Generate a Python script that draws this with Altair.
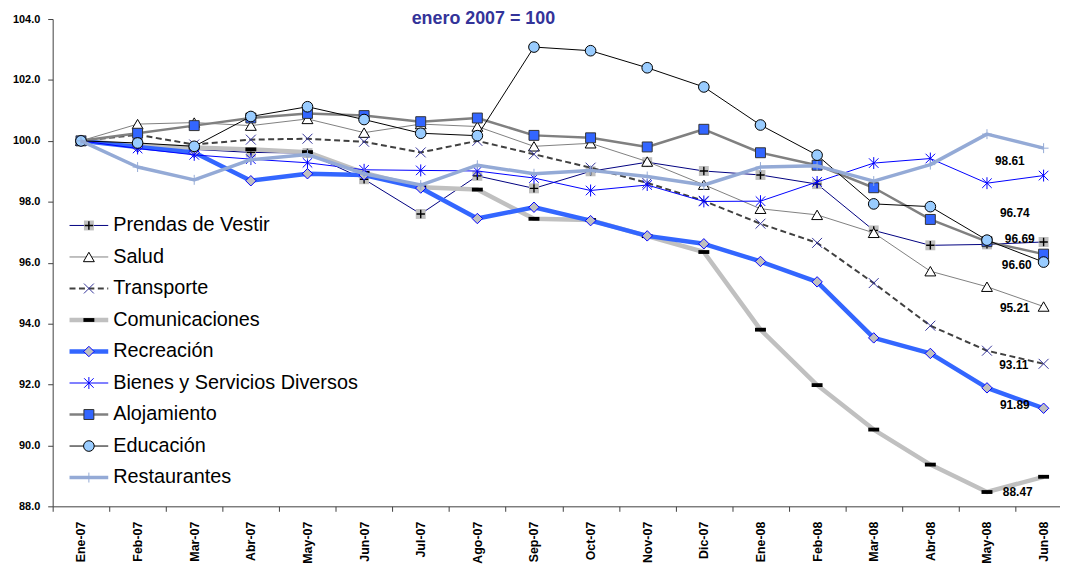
import altair as alt
import pandas as pd

months = ["Ene-07", "Feb-07", "Mar-07", "Abr-07", "May-07", "Jun-07", "Jul-07", "Ago-07",
          "Sep-07", "Oct-07", "Nov-07", "Dic-07", "Ene-08", "Feb-08", "Mar-08", "Abr-08",
          "May-08", "Jun-08"]

prendas = [100.0, 99.88, 99.72, 99.62, 99.60, 98.74, 97.60, 98.85, 98.44, 99.00, 99.30, 99.01,
           98.88, 98.58, 97.06, 96.57, 96.60, 96.68]
salud = [100.0, 100.55, 100.60, 100.50, 100.72, 100.27, 100.55, 100.47, 99.82, 99.92, 99.32, 98.56,
         97.77, 97.57, 96.98, 95.72, 95.21, 94.56]
transporte = [100.0, 100.20, 99.88, 100.04, 100.07, 99.97, 99.62, 100.00, 99.56, 99.12, 98.62, 98.03,
              97.28, 96.65, 95.33, 93.93, 93.11, 92.68]
comunicaciones = [100.0, 99.85, 99.78, 99.72, 99.63, 98.95, 98.48, 98.40, 97.44, 97.40, 96.87, 96.35,
                  93.80, 91.98, 90.52, 89.37, 88.47, 88.97]
recreacion = [100.0, 99.80, 99.62, 98.69, 98.92, 98.88, 98.45, 97.45, 97.82, 97.38, 96.88, 96.62,
              96.04, 95.37, 93.53, 93.02, 91.89, 91.22]
bienes = [100.0, 99.75, 99.54, 99.40, 99.28, 99.05, 99.03, 99.01, 98.78, 98.37, 98.55, 98.01,
          98.02, 98.65, 99.27, 99.42, 98.61, 98.86]
alojamiento = [100.0, 100.25, 100.50, 100.75, 100.90, 100.83, 100.63, 100.75, 100.18, 100.10, 99.80, 100.38,
               99.61, 99.20, 98.46, 97.42, 96.69, 96.28]
educacion = [100.0, 99.93, 99.82, 100.80, 101.12, 100.70, 100.25, 100.17, 103.08, 102.96, 102.40, 101.77,
             100.52, 99.53, 97.93, 97.84, 96.74, 96.02]
restaurantes = [100.0, 99.14, 98.72, 99.38, 99.55, 98.92, 98.55, 99.20, 98.92, 99.03, 98.83, 98.55,
                99.14, 99.18, 98.68, 99.22, 100.22, 99.76]

y_ticks = [88, 90, 92, 94, 96, 98, 100, 102, 104]
title_text = "enero 2007 = 100"
label_month = "May-08"

FONT = "Liberation Sans"
X_PATH = "M-1,-1L1,1M-1,1L1,-1"
STAR_PATH = "M-0.8,-0.8L0.8,0.8M-0.8,0.8L0.8,-0.8M0,-1L0,1"
PLUS_PATH = "M-1,0L1,0M0,-1L0,1"
DASH_PATH = "M-1,-0.35L1,-0.35L1,0.35L-1,0.35Z"

styles = [
    dict(name="Prendas de Vestir", data=prendas,
         line=dict(color="#000080", strokeWidth=1),
         markers=[dict(shape="square", size=100, filled=True, color="#c0c0c0", opacity=1),
                  dict(shape=PLUS_PATH, size=72, filled=False, color="black", strokeWidth=1.4, opacity=1)],
         label=(30, 21)),
    dict(name="Salud", data=salud,
         line=dict(color="#808080", strokeWidth=1),
         markers=[dict(shape="triangle-up", size=120, filled=True, fill="white", stroke="black",
                       strokeWidth=1, opacity=1)],
         label=(28, 21)),
    dict(name="Transporte", data=transporte,
         line=dict(color="#404040", strokeWidth=2, strokeDash=[6, 3.5]),
         markers=[dict(shape=X_PATH, size=100, filled=False, color="#333399", strokeWidth=1, opacity=1)],
         label=(27, 14)),
    dict(name="Comunicaciones", data=comunicaciones,
         line=dict(color="#c0c0c0", strokeWidth=4.5, strokeJoin="round"),
         markers=[dict(shape=DASH_PATH, size=121, filled=True, color="black", opacity=1)],
         label=(31, 0)),
    dict(name="Recreación", data=recreacion,
         line=dict(color="#3366ff", strokeWidth=4.5, strokeJoin="round"),
         markers=[dict(shape="diamond", size=110, filled=True, fill="#c0c0c0", stroke="#0000ff",
                       strokeWidth=1, opacity=1)],
         label=(28, 17)),
    dict(name="Bienes y Servicios Diversos", data=bienes,
         line=dict(color="#0000ff", strokeWidth=1),
         markers=[dict(shape=STAR_PATH, size=144, filled=False, color="#0000ff", strokeWidth=1, opacity=1)],
         label=(23, -22)),
    dict(name="Alojamiento", data=alojamiento,
         line=dict(color="#808080", strokeWidth=2.5, strokeJoin="round"),
         markers=[dict(shape="square", size=100, filled=True, fill="#3366ff", stroke="#333333",
                       strokeWidth=1, opacity=1)],
         label=(33, -3)),
    dict(name="Educación", data=educacion,
         line=dict(color="#000000", strokeWidth=1),
         markers=[dict(shape="circle", size=115, filled=True, fill="#99ccff", stroke="#000000",
                       strokeWidth=1, opacity=1)],
         label=(28, -27)),
    dict(name="Restaurantes", data=restaurantes,
         line=dict(color="#94aad6", strokeWidth=3.5, strokeJoin="round"),
         markers=[dict(shape=PLUS_PATH, size=100, filled=False, color="#94aad6", strokeWidth=1, opacity=1)],
         label=None),
]

rows = []
for st in styles:
    for m, v in zip(months, st["data"]):
        rows.append({"Mes": m, "Serie": st["name"], "Valor": v})
df = pd.DataFrame(rows)

W, H, RANGE_W = 1015, 491, 1027

x_enc = alt.X(
    "Mes:N", sort=months, title=None,
    scale=alt.Scale(type="band", domain=months, range=[0, RANGE_W], paddingInner=0, paddingOuter=0),
    axis=alt.Axis(labelAngle=-90, labelFont=FONT, labelFontSize=12.5, labelFontWeight="bold",
                  labelColor="black", tickBand="extent", tickSize=5, tickColor="#404040",
                  domainColor="#404040", labelPadding=10, grid=False, labelOverlap=False),
)
y_enc = alt.Y(
    "Valor:Q", title=None,
    scale=alt.Scale(domain=[88, 104], nice=False, zero=False),
    axis=alt.Axis(values=y_ticks, format=".1f", labelFont=FONT, labelFontSize=11,
                  labelFontWeight="bold", labelColor="black", tickSize=5, tickColor="#404040",
                  domainColor="#404040", labelPadding=8, grid=False),
)

layers = []
LEG_X0, LEG_X1, LEG_TX = 17, 56, 61
LEG_Y0, LEG_DY = 208, 31.75

for i, st in enumerate(styles):
    base = alt.Chart(df).transform_filter(alt.datum.Serie == st["name"])
    layers.append(base.mark_line(**st["line"]).encode(x=x_enc, y=y_enc))
    for mk in st["markers"]:
        layers.append(base.mark_point(**mk).encode(x=x_enc, y=y_enc))

    # legend row
    leg_df = pd.DataFrame({"Serie": [st["name"]]})
    ly = LEG_Y0 + LEG_DY * i
    layers.append(alt.Chart(leg_df).mark_rule(**st["line"]).encode(
        x=alt.value(LEG_X0), x2=alt.value(LEG_X1), y=alt.value(ly)))
    for mk in st["markers"]:
        layers.append(alt.Chart(leg_df).mark_point(**mk).encode(
            x=alt.value((LEG_X0 + LEG_X1) / 2), y=alt.value(ly)))
    layers.append(alt.Chart(leg_df).mark_text(
        align="left", baseline="middle", font=FONT, fontSize=20, color="black").encode(
        x=alt.value(LEG_TX), y=alt.value(ly), text="Serie:N"))

# value labels at May-08
for st in styles:
    if st["label"] is None:
        continue
    dx, dy = st["label"]
    layers.append(
        alt.Chart(df).transform_filter(
            (alt.datum.Serie == st["name"]) & (alt.datum.Mes == label_month)
        ).mark_text(dx=dx, dy=dy, font=FONT, fontSize=12, fontWeight="bold", color="black",
                    align="center", baseline="middle").encode(
            x=x_enc, y=y_enc, text=alt.Text("Valor:Q", format=".2f"))
    )

# title
layers.append(
    alt.Chart(pd.DataFrame({"t": [title_text]})).mark_text(
        font=FONT, fontSize=18, fontWeight="bold", color="#333399",
        align="center", baseline="alphabetic").encode(
        x=alt.value(434), y=alt.value(5), text="t:N")
)

chart = alt.layer(*layers).properties(
    width=W, height=H,
    autosize=alt.AutoSizeParams(type="none"),
    padding={"left": 45, "top": 9, "right": 0, "bottom": 56},
).configure(font=FONT).configure_view(stroke=None)

chart.save("out.html", embed_options={"renderer": "svg", "actions": False})
